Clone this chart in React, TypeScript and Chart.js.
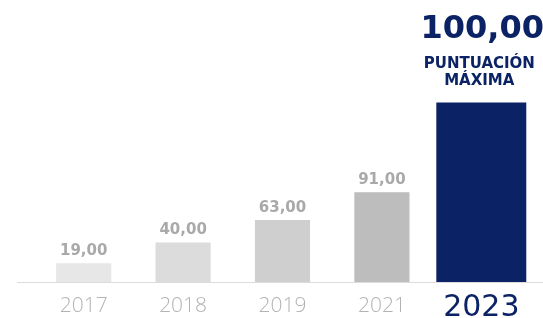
import React, { useEffect, useRef } from 'react';
import { Chart, registerables } from 'chart.js';

Chart.register(...registerables);

const categories = ['2017', '2018', '2019', '2021', '2023'];
const historicValues: (number | null)[] = [19, 40, 63, 91, null];
const currentValues: (number | null)[] = [null, null, null, null, 100];
const historicColors = ['#e7e7e7', '#dddcdc', '#cfcfcf', '#bdbdbd', '#bdbdbd'];
const highlightColor = '#0b2265';
const highlightLines = ['PUNTUACIÓN', 'MÁXIMA'];

const FAMILY = '"Open Sans", "DejaVu Sans", sans-serif';
const WIDE = '"DejaVu Sans", "Open Sans", sans-serif';
const fmt = (v: number) => v.toFixed(2).replace('.', ',');

const labelPlugin = {
  id: 'customLabels',
  beforeDatasetsDraw(chart: any) {
    const ctx = chart.ctx;
    const y = Math.round(chart.chartArea.bottom) + 0.5;
    ctx.save();
    ctx.strokeStyle = '#dcdcdc';
    ctx.lineWidth = 1;
    ctx.beginPath();
    ctx.moveTo(17, y);
    ctx.lineTo(chart.width, y);
    ctx.stroke();
    ctx.restore();
  },
  afterDatasetsDraw(chart: any) {
    const ctx = chart.ctx;
    ctx.save();
    ctx.textAlign = 'center';
    ctx.textBaseline = 'middle';
    const m0 = chart.getDatasetMeta(0);
    m0.data.forEach((bar: any, i: number) => {
      const v = historicValues[i];
      if (v == null) return;
      ctx.fillStyle = '#a9a9a9';
      ctx.font = `bold 15px ${WIDE}`;
      ctx.fillText(fmt(v), bar.x, bar.y - 12);
    });
    const m1 = chart.getDatasetMeta(1);
    m1.data.forEach((bar: any, i: number) => {
      const v = currentValues[i];
      if (v == null) return;
      ctx.fillStyle = highlightColor;
      ctx.font = `bold 32px ${WIDE}`;
      ctx.fillText(fmt(v), bar.x + 1, bar.y - 73);
      ctx.font = `bold 15px ${WIDE}`;
      ctx.fillText(highlightLines[0], bar.x - 2, bar.y - 38);
      ctx.fillText(highlightLines[1], bar.x - 2, bar.y - 21);
    });
    ctx.restore();
  },
};

export default function App() {
  const ref = useRef<HTMLCanvasElement | null>(null);
  useEffect(() => {
    if (!ref.current) return;
    const chart = new Chart(ref.current, {
      type: 'bar',
      data: {
        labels: categories,
        datasets: [
          {
            data: historicValues,
            backgroundColor: historicColors,
            yAxisID: 'y',
            grouped: false,
            categoryPercentage: 1,
            barPercentage: 0.555,
          } as any,
          {
            data: currentValues,
            backgroundColor: highlightColor,
            yAxisID: 'y2',
            grouped: false,
            categoryPercentage: 1,
            barPercentage: 0.905,
          } as any,
        ],
      },
      options: {
        animation: false,
        responsive: true,
        maintainAspectRatio: false,
        layout: { padding: { left: 34, right: 12, top: 0, bottom: -16 } },
        plugins: { legend: { display: false }, tooltip: { enabled: false } },
        scales: {
          x: {
            grid: { display: false, drawTicks: false },
            border: { display: false },
            ticks: {
              padding: 11,
              font: (c: any) =>
                c.index === 4
                  ? { family: WIDE, size: 30, weight: 'normal', lineHeight: 1 }
                  : { family: FAMILY, size: 21, weight: '300', lineHeight: 1.2 },
              color: (c: any) => (c.index === 4 ? highlightColor : '#b3b3b3'),
            },
          },
          y: { display: false, min: 0, max: 286 },
          y2: { display: false, min: 0, max: 157 },
        },
      },
      plugins: [labelPlugin],
    });
    return () => chart.destroy();
  }, []);
  return (
    <div style={{ position: 'fixed', left: 0, top: 0, width: 543, height: 318, background: '#fff' }}>
      <canvas ref={ref} />
    </div>
  );
}
